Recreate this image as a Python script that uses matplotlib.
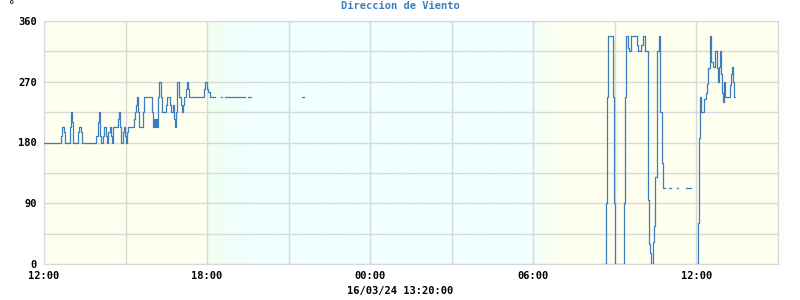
import numpy as np
import matplotlib
matplotlib.use("Agg")
import matplotlib.pyplot as plt
from matplotlib.colors import to_rgb

#wind direction breakpoints, minutes after 12:00 (15/03), nan = no data
minutes = [0, 38, 40, 44, 46, 57, 60, 62, 64, 75, 77, 82, 84, 115, 119, 121, 124, 126,
           130, 132, 137, 139, 141, 146, 148, 150, 152, 159, 163, 166, 168, 170, 174, 177,
           179, 181, 183, 185, 199, 201, 203, 205, 208, 210, 219, 221, 238, 241, 243, 245,
           247, 250, 252, 254, 256, 258, 261, 269, 272, 278, 280, 285, 287, 289, 291, 294,
           298, 303, 305, 307, 309, 314, 316, 318, 320, 353, 356, 360, 362, 367, 378,
           391, 393, 400, 444, 450, 457, 570, 573,
           1230, 1241, 1243, 1245, 1256, 1259, 1261, 1281, 1283, 1285, 1290, 1292, 1296,
           1308, 1310, 1318, 1323, 1327, 1332, 1334, 1336, 1338, 1340, 1344, 1347, 1349,
           1352, 1358, 1360, 1365, 1367, 1371, 1380, 1383, 1397, 1399, 1416, 1429,
           1442, 1443, 1445, 1447, 1449, 1451, 1457, 1461, 1463, 1466, 1469, 1471, 1473,
           1476, 1480, 1482, 1485, 1487, 1489, 1491, 1494, 1496, 1498, 1500, 1502, 1513,
           1516, 1518, 1520, 1522, 1524]
direction = [180, 190, 202.5, 195, 180, 202.5, 225, 210, 180, 195, 202.5, 195, 180, 190, 210, 225, 190, 180,
             190, 202.5, 190, 180, 195, 202.5, 190, 180, 202.5, 202.5, 215, 225, 202.5, 180, 195, 202.5,
             190, 180, 195, 202.5, 215, 225, 235, 247.5, 225, 202.5, 225, 247.5, 225, 202.5, 215, 202.5,
             215, 202.5, 247.5, 270, 270, 247.5, 225, 235, 247.5, 235, 225, 235, 215, 202.5, 225, 270,
             247.5, 235, 225, 235, 247.5, 260, 270, 260, 247.5, 260, 270, 260, 255, 247.5, np.nan,
             247.5, np.nan, 247.5, np.nan, 247.5, np.nan, 247.5, np.nan,
             0, 90, 247.5, 337.5, 247.5, 90, 0, 90, 247.5, 337.5, 320, 315, 337.5,
             325, 315, 325, 337.5, 315, 240, 95, 29, 16, 0, 33, 56, 129,
             315, 337.5, 225, 150, 112.5, np.nan, 112.5, np.nan, 112.5, np.nan, 112.5, np.nan,
             0, 61, 186, 247.5, 230, 225, 245, 254, 266, 290, 327, 337.5, 300,
             292.5, 309, 315, 290, 270, 292.5, 315, 281, 253, 240, 270, 247.5, 265,
             281, 292.5, 270, 247.5, np.nan]

x_ticks = [0, 6, 12, 18, 24]
x_labels = ["12:00", "18:00", "00:00", "06:00", "12:00"]
y_ticks = [0, 90, 180, 270, 360]

day = to_rgb("#fffff0")
night = to_rgb("#f0ffff")
dusk = to_rgb("#f0fff0")

hours = np.array(minutes) / 60.0

fig = plt.figure(figsize=(8, 3), dpi=100)
ax = fig.add_axes([44 / 800, 36 / 300, 734 / 800, 243 / 300])

#background day/night shading as a gradient strip
xs = np.linspace(0, 27, 1500)
cols = np.zeros((1, len(xs), 3))
for i, h in enumerate(xs):
    if h < 6 or h >= 19:
        c = day
    elif h < 7.6:
        t = (h - 6) / 1.6
        c = tuple(dusk[k] * (1 - t) + night[k] * t for k in range(3))
    elif h < 18:
        c = night
    else:
        t = (h - 18) / 1.0
        mid = tuple((dusk[k] + night[k]) / 2 for k in range(3))
        c = tuple(mid[k] * (1 - t) + day[k] * t for k in range(3))
    cols[0, i] = c
ax.imshow(cols, extent=[0, 27, 0, 360], aspect="auto", zorder=0, interpolation="bilinear")

ax.plot(hours, direction, drawstyle="steps-post", color="#3a7ebf", lw=0.9, zorder=3)

ax.set_xlim(0, 27)
ax.set_ylim(0, 360)
ax.set_xticks(x_ticks)
ax.set_xticklabels(x_labels)
ax.set_xticks(np.arange(0, 28, 3), minor=True)
ax.set_yticks(y_ticks)
ax.set_yticks(np.arange(0, 361, 45), minor=True)
ax.grid(True, which="both", color="#d8d8d8", lw=1, zorder=1)
ax.set_axisbelow(False)
for ln in ax.get_xgridlines() + ax.get_ygridlines():
    ln.set_zorder(1)
ax.tick_params(which="both", length=0)
ax.tick_params(axis="x", pad=5)
ax.tick_params(axis="y", pad=5)
for lab in ax.get_xticklabels() + ax.get_yticklabels():
    lab.set_fontfamily("DejaVu Sans Mono")
    lab.set_fontweight("bold")
    lab.set_fontsize(7.5)
for s in ax.spines.values():
    s.set_color("#d8d8d8")

fig.text(0.5, 1 - 6 / 300, "Direccion de Viento", ha="center", va="center",
         color="#3a7ebf", fontsize=7.5, fontweight="bold", family="DejaVu Sans Mono")
fig.text(12 / 800, 1 - 5 / 300, "°", ha="center", va="center", fontsize=8, color="black")
fig.text(0.5, 1 - 291 / 300, "16/03/24 13:20:00", ha="center", va="center",
         fontsize=7.5, fontweight="bold", family="DejaVu Sans Mono")

fig.savefig("out.png", dpi=100)
